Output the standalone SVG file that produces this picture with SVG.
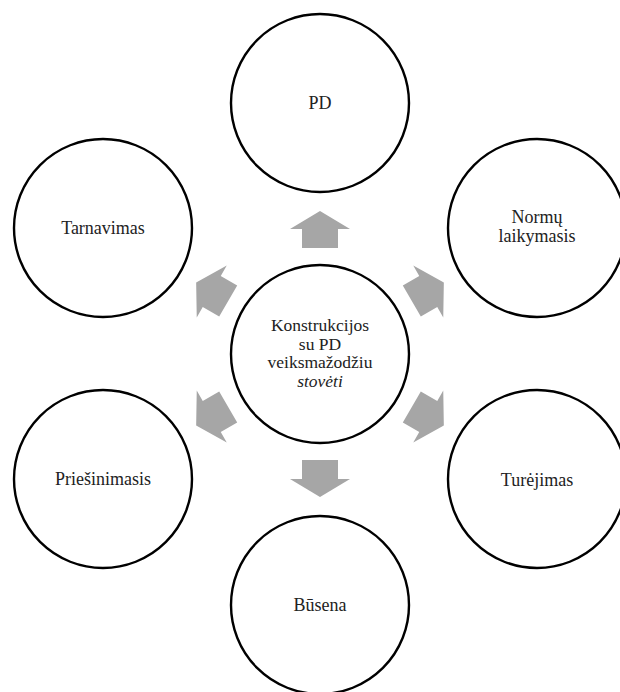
<svg xmlns="http://www.w3.org/2000/svg" xmlns:xlink="http://www.w3.org/1999/xlink" width="620" height="692" viewBox="0 0 620 692">
  <style>
    .node circle { fill: #ffffff; stroke: #000000; stroke-width: 2.4; }
    text { font-family: 'Liberation Serif', 'DejaVu Serif', serif; font-size: 18px; fill: #222222; text-anchor: middle; }
    .c { font-size: 17.5px; }
    .it { font-style: italic; }
    .arrow { fill: #a6a6a6; }
  </style>
  <defs>
    <path id="arr" d="M320,211 L350,229 L338,229 L338,248 L302,248 L302,229 L290,229 Z"/>
  </defs>
  <rect width="620" height="692" fill="#ffffff"/>

  <g id="connectors" class="arrow">
    <use xlink:href="#arr"/>
    <use xlink:href="#arr" transform="rotate(60 320 354)"/>
    <use xlink:href="#arr" transform="rotate(120 320 354)"/>
    <use xlink:href="#arr" transform="rotate(180 320 354)"/>
    <use xlink:href="#arr" transform="rotate(240 320 354)"/>
    <use xlink:href="#arr" transform="rotate(300 320 354)"/>
  </g>

  <g id="node-center" class="node">
    <circle cx="320" cy="354" r="89"/>
    <text x="320" y="331" class="c">Konstrukcijos</text>
    <text x="320" y="349.7" class="c">su PD</text>
    <text x="320" y="368.4" class="c">veiksmažodžiu</text>
    <text x="320" y="387.1" class="c it">stovėti</text>
  </g>

  <g id="node-pd" class="node">
    <circle cx="320" cy="103" r="89"/>
    <text x="320" y="109">PD</text>
  </g>

  <g id="node-normu" class="node">
    <circle cx="537" cy="228" r="89"/>
    <text x="537" y="222.5">Normų</text>
    <text x="537" y="241.5">laikymasis</text>
  </g>

  <g id="node-turejimas" class="node">
    <circle cx="537" cy="479" r="89"/>
    <text x="537" y="485.5">Turėjimas</text>
  </g>

  <g id="node-busena" class="node">
    <circle cx="320" cy="605" r="89"/>
    <text x="320" y="610.5">Būsena</text>
  </g>

  <g id="node-priesinimasis" class="node">
    <circle cx="103" cy="479" r="89"/>
    <text x="103" y="485">Priešinimasis</text>
  </g>

  <g id="node-tarnavimas" class="node">
    <circle cx="103" cy="228" r="89"/>
    <text x="103" y="233.5">Tarnavimas</text>
  </g>
</svg>
